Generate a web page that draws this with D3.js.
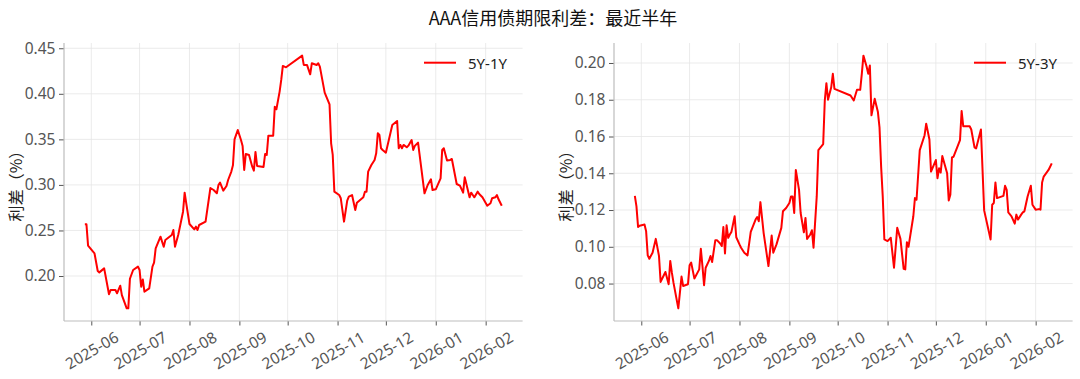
<!DOCTYPE html>
<html><head><meta charset="utf-8">
<script src="https://cdn.jsdelivr.net/npm/d3@7"></script>
<style>body{margin:0;background:#fff} svg{display:block}</style>
</head><body><svg id="c" width="1080" height="379"></svg>
<script>
const title = "AAA信用债期限利差：最近半年";
const yLabel = "利差（%）";
const xTickLabels = ["2025-06","2025-07","2025-08","2025-09","2025-10","2025-11","2025-12","2026-01","2026-02"];

const leftName = "5Y-1Y";
const leftDates = ["2025-05-28","2025-05-29","2025-05-30","2025-06-03","2025-06-05","2025-06-06","2025-06-09","2025-06-12","2025-06-13","2025-06-16","2025-06-17","2025-06-19","2025-06-20","2025-06-23","2025-06-24","2025-06-25","2025-06-27","2025-06-30","2025-07-01","2025-07-02","2025-07-03","2025-07-04","2025-07-07","2025-07-09","2025-07-10","2025-07-11","2025-07-14","2025-07-16","2025-07-17","2025-07-21","2025-07-22","2025-07-23","2025-07-25","2025-07-28","2025-07-29","2025-07-30","2025-08-01","2025-08-04","2025-08-05","2025-08-06","2025-08-07","2025-08-11","2025-08-14","2025-08-16","2025-08-18","2025-08-19","2025-08-20","2025-08-22","2025-08-24","2025-08-25","2025-08-27","2025-08-28","2025-08-29","2025-08-31","2025-09-02","2025-09-03","2025-09-04","2025-09-05","2025-09-07","2025-09-09","2025-09-10","2025-09-11","2025-09-12","2025-09-16","2025-09-17","2025-09-18","2025-09-19","2025-09-22","2025-09-23","2025-09-24","2025-09-26","2025-09-27","2025-09-28","2025-09-30","2025-10-10","2025-10-11","2025-10-13","2025-10-15","2025-10-16","2025-10-19","2025-10-20","2025-10-21","2025-10-24","2025-10-27","2025-10-28","2025-10-29","2025-10-30","2025-11-02","2025-11-03","2025-11-05","2025-11-07","2025-11-08","2025-11-10","2025-11-12","2025-11-13","2025-11-15","2025-11-17","2025-11-18","2025-11-19","2025-11-20","2025-11-22","2025-11-24","2025-11-25","2025-11-26","2025-11-27","2025-11-28","2025-11-29","2025-12-01","2025-12-05","2025-12-08","2025-12-09","2025-12-10","2025-12-11","2025-12-12","2025-12-14","2025-12-15","2025-12-17","2025-12-18","2025-12-19","2025-12-21","2025-12-25","2025-12-27","2025-12-29","2025-12-30","2026-01-01","2026-01-04","2026-01-05","2026-01-06","2026-01-08","2026-01-10","2026-01-11","2026-01-14","2026-01-16","2026-01-18","2026-01-19","2026-01-22","2026-01-23","2026-01-24","2026-01-25","2026-01-27","2026-01-28","2026-01-30","2026-02-02","2026-02-04","2026-02-05","2026-02-07","2026-02-08","2026-02-09","2026-02-11"];
const leftValues = [0.2567,0.2567,0.2333,0.2249,0.2055,0.2040,0.2084,0.1800,0.1846,0.1846,0.1810,0.1894,0.1790,0.1645,0.1645,0.1970,0.2066,0.2103,0.2066,0.1883,0.1963,0.1828,0.1864,0.2103,0.2146,0.2304,0.2432,0.2322,0.2395,0.2450,0.2505,0.2322,0.2450,0.2706,0.2915,0.2798,0.2571,0.2512,0.2542,0.2505,0.2560,0.2597,0.2966,0.2944,0.2908,0.2998,0.3025,0.2937,0.2988,0.3054,0.3146,0.3215,0.3500,0.3603,0.3493,0.3428,0.3164,0.3340,0.3329,0.3200,0.3157,0.3362,0.3208,0.3197,0.3340,0.3329,0.3541,0.3541,0.3859,0.3830,0.4024,0.4152,0.4306,0.4291,0.4419,0.4317,0.4317,0.4214,0.4335,0.4317,0.4335,0.4299,0.4013,0.3885,0.3457,0.3329,0.2926,0.2889,0.2853,0.2597,0.2827,0.2871,0.2889,0.2725,0.2805,0.2835,0.2864,0.2926,0.2926,0.3146,0.3219,0.3274,0.3347,0.3567,0.3548,0.3402,0.3384,0.3354,0.3658,0.3702,0.3402,0.3439,0.3402,0.3439,0.3413,0.3431,0.3493,0.3384,0.3428,0.3464,0.2908,0.2999,0.3062,0.2944,0.2952,0.3072,0.3384,0.3402,0.3267,0.3274,0.3285,0.3010,0.2992,0.2915,0.3083,0.2864,0.2915,0.2889,0.2864,0.2926,0.2900,0.2864,0.2772,0.2798,0.2853,0.2864,0.2889,0.2842,0.2772];

const rightName = "5Y-3Y";
const rightDates = ["2025-05-28","2025-05-29","2025-05-30","2025-05-31","2025-06-03","2025-06-04","2025-06-05","2025-06-06","2025-06-08","2025-06-10","2025-06-12","2025-06-13","2025-06-15","2025-06-16","2025-06-18","2025-06-19","2025-06-20","2025-06-21","2025-06-24","2025-06-26","2025-06-27","2025-06-30","2025-07-01","2025-07-02","2025-07-04","2025-07-07","2025-07-08","2025-07-09","2025-07-10","2025-07-11","2025-07-13","2025-07-14","2025-07-15","2025-07-17","2025-07-18","2025-07-20","2025-07-21","2025-07-22","2025-07-23","2025-07-24","2025-07-25","2025-07-26","2025-07-27","2025-07-29","2025-07-30","2025-08-01","2025-08-02","2025-08-04","2025-08-06","2025-08-08","2025-08-11","2025-08-12","2025-08-13","2025-08-14","2025-08-16","2025-08-19","2025-08-21","2025-08-22","2025-08-24","2025-08-27","2025-08-28","2025-08-30","2025-09-01","2025-09-02","2025-09-03","2025-09-04","2025-09-05","2025-09-07","2025-09-08","2025-09-10","2025-09-11","2025-09-12","2025-09-14","2025-09-15","2025-09-16","2025-09-18","2025-09-19","2025-09-22","2025-09-23","2025-09-24","2025-09-25","2025-09-27","2025-09-28","2025-09-29","2025-10-09","2025-10-11","2025-10-13","2025-10-15","2025-10-16","2025-10-17","2025-10-19","2025-10-20","2025-10-21","2025-10-22","2025-10-24","2025-10-26","2025-10-27","2025-10-28","2025-10-29","2025-10-30","2025-11-01","2025-11-03","2025-11-05","2025-11-07","2025-11-09","2025-11-11","2025-11-12","2025-11-13","2025-11-14","2025-11-17","2025-11-18","2025-11-19","2025-11-21","2025-11-24","2025-11-25","2025-11-27","2025-11-28","2025-12-01","2025-12-02","2025-12-03","2025-12-04","2025-12-05","2025-12-08","2025-12-09","2025-12-10","2025-12-11","2025-12-12","2025-12-16","2025-12-17","2025-12-18","2025-12-22","2025-12-23","2025-12-25","2025-12-26","2025-12-29","2025-12-31","2026-01-04","2026-01-05","2026-01-06","2026-01-07","2026-01-08","2026-01-12","2026-01-13","2026-01-14","2026-01-15","2026-01-17","2026-01-19","2026-01-20","2026-01-21","2026-01-23","2026-01-24","2026-01-25","2026-01-27","2026-01-29","2026-01-30","2026-02-01","2026-02-03","2026-02-04","2026-02-05","2026-02-06","2026-02-09","2026-02-11"];
const rightValues = [0.1277,0.1220,0.1108,0.1115,0.1121,0.1085,0.0953,0.0935,0.0968,0.1043,0.0950,0.0809,0.0845,0.0863,0.0796,0.0923,0.0859,0.0805,0.0665,0.0838,0.0787,0.0796,0.0899,0.0914,0.0827,0.0877,0.0989,0.0895,0.0791,0.0886,0.0923,0.0950,0.0917,0.1036,0.1036,0.1018,0.1004,0.1108,0.0964,0.1117,0.1049,0.1067,0.1081,0.1166,0.1052,0.1013,0.0995,0.0968,0.0953,0.1081,0.1148,0.1162,0.1139,0.1243,0.1076,0.0895,0.1061,0.0968,0.1013,0.1103,0.1193,0.1211,0.1238,0.1274,0.1274,0.1184,0.1418,0.1310,0.1184,0.1079,0.1157,0.1043,0.1067,0.1090,0.0995,0.1274,0.1526,0.1559,0.1796,0.1890,0.1800,0.1868,0.1941,0.1859,0.1823,0.1796,0.1854,0.1854,0.1941,0.2040,0.1980,0.1941,0.1986,0.1715,0.1805,0.1733,0.1649,0.1436,0.1274,0.1040,0.1031,0.1049,0.0886,0.1103,0.1043,0.0880,0.0877,0.1025,0.1000,0.1166,0.1265,0.1256,0.1526,0.1607,0.1670,0.1584,0.1409,0.1472,0.1373,0.1427,0.1404,0.1494,0.1400,0.1252,0.1283,0.1486,0.1490,0.1580,0.1739,0.1656,0.1656,0.1638,0.1541,0.1535,0.1638,0.1198,0.1040,0.1229,0.1238,0.1350,0.1265,0.1277,0.1332,0.1310,0.1187,0.1166,0.1126,0.1175,0.1148,0.1175,0.1187,0.1193,0.1274,0.1332,0.1229,0.1202,0.1205,0.1202,0.1350,0.1382,0.1418,0.1454];

const leftYTicks = [0.20,0.25,0.30,0.35,0.40,0.45];
const rightYTicks = [0.08,0.10,0.12,0.14,0.16,0.18,0.20];

const svg = d3.select("#c");
const parse = d3.timeParse("%Y-%m-%d");
const parseM = d3.timeParse("%Y-%m");
const FONT = "'Noto Sans','Noto Sans CJK SC',sans-serif";
const CJK = "'Noto Sans CJK SC','Noto Sans',sans-serif";

svg.append("text").attr("x", 553).attr("y", 17).attr("text-anchor", "middle")
  .attr("dominant-baseline", "central").attr("font-family", CJK).attr("font-size", 18)
  .attr("fill", "#111").text(title);

function panel(x0, x1, name, dates, values, yTicks, yFmt) {
  const top = 43, bottom = 321;
  const data = dates.map((d, i) => ({ d: parse(d), v: values[i] }));
  const [dmin, dmax] = d3.extent(data, p => p.d);
  const dpad = (dmax - dmin) * 0.05;
  const x = d3.scaleTime().domain([new Date(+dmin - dpad), new Date(+dmax + dpad)]).range([x0, x1]);
  const [vmin, vmax] = d3.extent(values);
  const vpad = (vmax - vmin) * 0.05;
  const y = d3.scaleLinear().domain([vmin - vpad, vmax + vpad]).range([bottom, top]);
  const g = svg.append("g");
  const xt = xTickLabels.map(s => parseM(s));

  // grid
  g.append("g").selectAll("line").data(xt).join("line")
    .attr("x1", d => x(d)).attr("x2", d => x(d)).attr("y1", top).attr("y2", bottom)
    .attr("stroke", "#e6e6e6").attr("stroke-width", 0.8);
  g.append("g").selectAll("line").data(yTicks).join("line")
    .attr("x1", x0).attr("x2", x1).attr("y1", d => y(d)).attr("y2", d => y(d))
    .attr("stroke", "#e6e6e6").attr("stroke-width", 0.8);

  // axes
  const ax = d3.axisBottom(x).tickValues(xt).tickFormat(d3.timeFormat("%Y-%m")).tickSize(4.5).tickPadding(3);
  const gx = g.append("g").attr("transform", `translate(0,${bottom})`).call(ax);
  gx.select(".domain").remove();
  gx.selectAll(".tick line").attr("stroke", "#555");
  gx.selectAll(".tick text").attr("font-family", FONT).attr("font-size", 15.5).attr("fill", "#555")
    .attr("text-anchor", "middle").attr("dominant-baseline", "central").attr("dy", null)
    .attr("y", 29).attr("transform", "rotate(-30,0,29)");

  const ay = d3.axisLeft(y).tickValues(yTicks).tickFormat(yFmt).tickSize(5).tickPadding(3.5);
  const gy = g.append("g").attr("transform", `translate(${x0},0)`).call(ay);
  gy.select(".domain").remove();
  gy.selectAll(".tick line").attr("stroke", "#555");
  gy.selectAll(".tick text").attr("font-family", FONT).attr("font-size", 15.5).attr("fill", "#555");

  // spines
  g.append("line").attr("x1", x0).attr("x2", x0).attr("y1", top).attr("y2", bottom).attr("stroke", "#bdbdbd").attr("stroke-width", 1.2);
  g.append("line").attr("x1", x0).attr("x2", x1).attr("y1", bottom).attr("y2", bottom).attr("stroke", "#bdbdbd").attr("stroke-width", 1.2);

  // y label
  g.append("text").attr("transform", `translate(${x0 - 49},${(top + bottom) / 2}) rotate(-90)`)
    .attr("text-anchor", "middle").attr("dominant-baseline", "central")
    .attr("font-family", CJK).attr("font-size", 16).attr("fill", "#222").text(yLabel);

  // line
  g.append("path").datum(data)
    .attr("d", d3.line().x(p => x(p.d)).y(p => y(p.v)))
    .attr("fill", "none").attr("stroke", "#ff0000").attr("stroke-width", 2).attr("stroke-linejoin", "round");

  // legend
  g.append("line").attr("x1", x0 + 360).attr("x2", x0 + 392).attr("y1", 62.7).attr("y2", 62.7)
    .attr("stroke", "#ff0000").attr("stroke-width", 2);
  g.append("text").attr("x", x0 + 404).attr("y", 63).attr("dominant-baseline", "central")
    .attr("font-family", FONT).attr("font-size", 15).attr("fill", "#222").text(name);
}

panel(64, 522.6, leftName, leftDates, leftValues, leftYTicks, d3.format(".2f"));
panel(614, 1072.6, rightName, rightDates, rightValues, rightYTicks, d3.format(".2f"));
</script>
</body></html>
